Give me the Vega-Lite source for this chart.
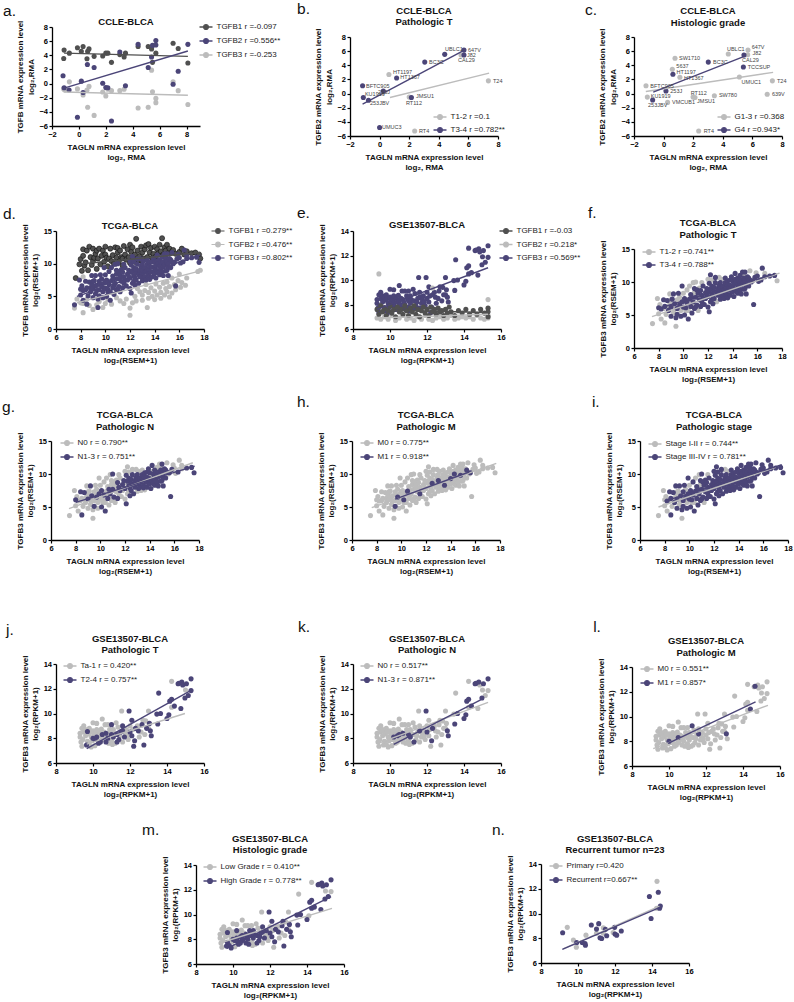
{"$schema":"https://vega.github.io/schema/vega-lite/v6.json","autosize":"none","padding":{"left":51,"top":27,"right":743,"bottom":975},"background":"#ffffff","bounds":"flush","spacing":0,"resolve":{"scale":{"color":"independent"},"legend":{"color":"independent"}},
"config":{"font":"Liberation Sans","view":{"stroke":null},"axis":{"grid":false,"domainColor":"#000","domainWidth":1.3,"tickColor":"#000","tickWidth":1.2,"tickSize":3,"labelColor":"#000","labelFontSize":7.5,"labelFontWeight":"bold","labelPadding":1.5,"labelOverlap":false,"labelFlush":false,"titleColor":"#111","titleFontSize":8,"titleFontWeight":"bold","titleLineHeight":10.5},"axisX":{"titlePadding":5},"axisY":{"titlePadding":3.5},"legend":{"orient":"none","padding":0,"symbolType":"M-1,0L-0.36,0A0.36,0.36 0 1,1 0.36,0A0.36,0.36 0 1,1 -0.36,0M0.36,0L1,0","symbolSize":169,"symbolStrokeWidth":1.1,"labelFontSize":8,"labelColor":"#222","labelOffset":3,"labelFont":"Liberation Sans","title":null},"circle":{"size":26,"opacity":1},"line":{"strokeWidth":1.4},"title":{"fontSize":9.5,"fontWeight":"bold","lineHeight":11.5,"color":"#111","anchor":"middle"},"text":{"font":"Liberation Sans"}},
"datasets":{"none":[{"v":0}],
"tcga":[{"x":7.5,"y":3.7,"T":0,"N":0,"M":0,"S":0},{"x":7.9,"y":7.5,"T":0,"N":0,"M":0,"S":0},{"x":8.0,"y":5.2,"T":0,"N":0,"M":0,"S":0},{"x":8.0,"y":6.1,"T":1,"N":1,"M":0,"S":0},{"x":8.1,"y":6.6,"T":0,"N":0,"M":0,"S":0},{"x":8.2,"y":4.4,"T":0,"N":0,"M":0,"S":0},{"x":8.2,"y":5.9,"T":1,"N":0,"M":0,"S":1},{"x":8.4,"y":7.3,"T":1,"N":1,"M":0,"S":1},{"x":8.4,"y":6.0,"T":0,"N":0,"M":0,"S":0},{"x":8.5,"y":3.8,"T":0,"N":1,"M":0,"S":1},{"x":8.5,"y":6.3,"T":1,"N":0,"M":0,"S":1},{"x":8.6,"y":5.1,"T":0,"N":0,"M":0,"S":0},{"x":8.7,"y":7.2,"T":1,"N":1,"M":0,"S":1},{"x":8.8,"y":5.7,"T":1,"N":0,"M":0,"S":1},{"x":8.8,"y":6.3,"T":0,"N":0,"M":0,"S":0},{"x":8.9,"y":6.8,"T":0,"N":0,"M":0,"S":0},{"x":8.9,"y":8.2,"T":0,"N":0,"M":0,"S":1},{"x":9.0,"y":4.8,"T":1,"N":0,"M":0,"S":1},{"x":9.0,"y":6.2,"T":1,"N":1,"M":0,"S":1},{"x":9.0,"y":7.3,"T":0,"N":0,"M":0,"S":0},{"x":9.1,"y":7.4,"T":1,"N":0,"M":0,"S":0},{"x":9.2,"y":5.4,"T":0,"N":0,"M":0,"S":0},{"x":9.2,"y":6.6,"T":0,"N":0,"M":0,"S":0},{"x":9.2,"y":8.2,"T":1,"N":1,"M":0,"S":1},{"x":9.3,"y":5.9,"T":0,"N":0,"M":0,"S":0},{"x":9.3,"y":6.7,"T":1,"N":1,"M":0,"S":1},{"x":9.4,"y":3.3,"T":0,"N":0,"M":0,"S":0},{"x":9.4,"y":4.6,"T":1,"N":0,"M":0,"S":1},{"x":9.5,"y":5.1,"T":1,"N":1,"M":1,"S":1},{"x":9.5,"y":6.0,"T":1,"N":0,"M":0,"S":1},{"x":9.5,"y":7.3,"T":0,"N":0,"M":0,"S":1},{"x":9.6,"y":8.3,"T":1,"N":0,"M":0,"S":1},{"x":9.6,"y":6.9,"T":0,"N":0,"M":0,"S":0},{"x":9.7,"y":6.5,"T":1,"N":1,"M":1,"S":1},{"x":9.7,"y":7.7,"T":0,"N":0,"M":0,"S":0},{"x":9.8,"y":4.8,"T":1,"N":0,"M":0,"S":1},{"x":9.8,"y":5.7,"T":0,"N":0,"M":0,"S":0},{"x":9.9,"y":7.0,"T":1,"N":1,"M":0,"S":1},{"x":9.9,"y":9.4,"T":1,"N":0,"M":0,"S":1},{"x":9.9,"y":6.2,"T":0,"N":0,"M":0,"S":0},{"x":10.0,"y":6.2,"T":1,"N":0,"M":0,"S":1},{"x":10.0,"y":8.3,"T":0,"N":0,"M":0,"S":0},{"x":10.0,"y":7.3,"T":0,"N":0,"M":0,"S":0},{"x":10.1,"y":5.0,"T":1,"N":1,"M":0,"S":1},{"x":10.1,"y":7.5,"T":1,"N":1,"M":0,"S":1},{"x":10.2,"y":6.1,"T":1,"N":0,"M":1,"S":1},{"x":10.2,"y":7.1,"T":1,"N":0,"M":0,"S":1},{"x":10.2,"y":5.7,"T":0,"N":0,"M":0,"S":0},{"x":10.3,"y":8.8,"T":0,"N":0,"M":0,"S":1},{"x":10.3,"y":6.8,"T":1,"N":1,"M":0,"S":1},{"x":10.4,"y":4.4,"T":1,"N":1,"M":0,"S":1},{"x":10.4,"y":5.7,"T":0,"N":0,"M":0,"S":0},{"x":10.5,"y":7.4,"T":1,"N":0,"M":1,"S":1},{"x":10.5,"y":9.4,"T":0,"N":0,"M":0,"S":0},{"x":10.6,"y":6.3,"T":1,"N":1,"M":0,"S":1},{"x":10.6,"y":8.1,"T":1,"N":0,"M":0,"S":1},{"x":10.7,"y":5.3,"T":1,"N":0,"M":0,"S":1},{"x":10.7,"y":7.7,"T":1,"N":1,"M":0,"S":1},{"x":10.7,"y":6.7,"T":0,"N":0,"M":0,"S":0},{"x":10.8,"y":7.0,"T":1,"N":1,"M":0,"S":1},{"x":10.8,"y":9.9,"T":0,"N":0,"M":0,"S":0},{"x":10.9,"y":9.0,"T":1,"N":0,"M":0,"S":1},{"x":10.9,"y":6.0,"T":1,"N":0,"M":0,"S":1},{"x":10.9,"y":8.4,"T":0,"N":0,"M":0,"S":0},{"x":11.0,"y":7.7,"T":1,"N":1,"M":0,"S":1},{"x":11.0,"y":10.0,"T":0,"N":1,"M":0,"S":1},{"x":11.0,"y":6.2,"T":1,"N":0,"M":0,"S":1},{"x":11.1,"y":6.5,"T":1,"N":1,"M":0,"S":1},{"x":11.1,"y":8.8,"T":1,"N":0,"M":0,"S":1},{"x":11.2,"y":5.7,"T":0,"N":0,"M":0,"S":0},{"x":11.2,"y":8.3,"T":1,"N":0,"M":0,"S":1},{"x":11.2,"y":7.8,"T":0,"N":0,"M":0,"S":0},{"x":11.3,"y":7.3,"T":1,"N":0,"M":0,"S":1},{"x":11.3,"y":9.1,"T":0,"N":0,"M":0,"S":1},{"x":11.4,"y":6.3,"T":1,"N":1,"M":0,"S":1},{"x":11.4,"y":8.7,"T":1,"N":1,"M":0,"S":1},{"x":11.5,"y":8.0,"T":1,"N":1,"M":0,"S":1},{"x":11.5,"y":7.0,"T":1,"N":0,"M":1,"S":1},{"x":11.5,"y":9.9,"T":0,"N":0,"M":0,"S":0},{"x":11.6,"y":9.4,"T":1,"N":0,"M":0,"S":1},{"x":11.6,"y":7.5,"T":1,"N":1,"M":0,"S":1},{"x":11.7,"y":6.6,"T":1,"N":0,"M":0,"S":1},{"x":11.8,"y":8.4,"T":1,"N":1,"M":0,"S":1},{"x":11.8,"y":7.5,"T":1,"N":0,"M":0,"S":1},{"x":11.9,"y":9.0,"T":1,"N":1,"M":0,"S":1},{"x":11.9,"y":8.0,"T":1,"N":0,"M":0,"S":1},{"x":12.0,"y":6.2,"T":1,"N":0,"M":0,"S":1},{"x":12.0,"y":7.8,"T":1,"N":1,"M":0,"S":1},{"x":12.0,"y":10.4,"T":0,"N":0,"M":0,"S":1},{"x":12.1,"y":8.7,"T":1,"N":0,"M":0,"S":1},{"x":12.1,"y":9.8,"T":1,"N":1,"M":0,"S":1},{"x":12.1,"y":5.5,"T":1,"N":1,"M":0,"S":1},{"x":12.2,"y":7.0,"T":1,"N":0,"M":0,"S":1},{"x":12.2,"y":11.1,"T":1,"N":0,"M":0,"S":1},{"x":12.2,"y":8.9,"T":1,"N":1,"M":0,"S":1},{"x":12.3,"y":8.2,"T":1,"N":1,"M":0,"S":1},{"x":12.3,"y":9.4,"T":1,"N":1,"M":0,"S":1},{"x":12.3,"y":7.3,"T":1,"N":0,"M":0,"S":1},{"x":12.3,"y":10.3,"T":0,"N":0,"M":0,"S":1},{"x":12.4,"y":6.7,"T":1,"N":1,"M":0,"S":1},{"x":12.4,"y":7.9,"T":1,"N":1,"M":0,"S":1},{"x":12.5,"y":7.5,"T":1,"N":1,"M":0,"S":1},{"x":12.5,"y":8.6,"T":1,"N":1,"M":1,"S":1},{"x":12.5,"y":9.2,"T":1,"N":1,"M":0,"S":1},{"x":12.6,"y":9.9,"T":1,"N":1,"M":0,"S":1},{"x":12.6,"y":10.7,"T":1,"N":0,"M":0,"S":1},{"x":12.7,"y":7.0,"T":0,"N":1,"M":0,"S":1},{"x":12.7,"y":8.4,"T":1,"N":1,"M":0,"S":1},{"x":12.8,"y":8.0,"T":1,"N":1,"M":0,"S":1},{"x":12.8,"y":9.0,"T":1,"N":1,"M":0,"S":1},{"x":12.9,"y":10.7,"T":0,"N":0,"M":0,"S":0},{"x":12.9,"y":9.5,"T":1,"N":1,"M":0,"S":1},{"x":13.0,"y":7.4,"T":1,"N":0,"M":0,"S":1},{"x":13.0,"y":8.5,"T":1,"N":1,"M":0,"S":1},{"x":13.0,"y":9.0,"T":1,"N":1,"M":1,"S":1},{"x":13.0,"y":9.9,"T":1,"N":1,"M":0,"S":1},{"x":13.1,"y":10.4,"T":0,"N":0,"M":0,"S":0},{"x":13.1,"y":7.8,"T":1,"N":1,"M":0,"S":1},{"x":13.2,"y":8.0,"T":1,"N":1,"M":0,"S":1},{"x":13.2,"y":9.4,"T":1,"N":1,"M":0,"S":1},{"x":13.2,"y":8.7,"T":1,"N":1,"M":0,"S":1},{"x":13.3,"y":7.5,"T":1,"N":0,"M":0,"S":1},{"x":13.3,"y":8.8,"T":1,"N":1,"M":0,"S":1},{"x":13.4,"y":9.9,"T":1,"N":1,"M":0,"S":1},{"x":13.4,"y":10.6,"T":1,"N":0,"M":0,"S":1},{"x":13.4,"y":9.0,"T":1,"N":0,"M":0,"S":1},{"x":13.5,"y":8.3,"T":1,"N":1,"M":1,"S":1},{"x":13.5,"y":9.2,"T":1,"N":1,"M":0,"S":1},{"x":13.5,"y":7.9,"T":1,"N":1,"M":0,"S":1},{"x":13.6,"y":7.6,"T":1,"N":0,"M":0,"S":1},{"x":13.6,"y":10.2,"T":1,"N":1,"M":0,"S":1},{"x":13.6,"y":9.6,"T":1,"N":1,"M":0,"S":1},{"x":13.7,"y":8.8,"T":1,"N":1,"M":0,"S":1},{"x":13.8,"y":9.5,"T":1,"N":1,"M":0,"S":1},{"x":13.8,"y":8.0,"T":1,"N":1,"M":0,"S":1},{"x":13.8,"y":10.3,"T":1,"N":1,"M":0,"S":1},{"x":13.9,"y":10.8,"T":1,"N":1,"M":0,"S":1},{"x":13.9,"y":8.6,"T":1,"N":1,"M":0,"S":1},{"x":14.0,"y":9.3,"T":1,"N":1,"M":1,"S":1},{"x":14.0,"y":8.5,"T":1,"N":1,"M":0,"S":1},{"x":14.0,"y":10.2,"T":1,"N":1,"M":0,"S":1},{"x":14.1,"y":7.8,"T":1,"N":1,"M":0,"S":1},{"x":14.1,"y":9.7,"T":1,"N":0,"M":0,"S":1},{"x":14.1,"y":9.0,"T":1,"N":1,"M":0,"S":1},{"x":14.2,"y":11.3,"T":1,"N":1,"M":0,"S":1},{"x":14.2,"y":8.9,"T":1,"N":1,"M":0,"S":1},{"x":14.2,"y":10.4,"T":1,"N":0,"M":0,"S":1},{"x":14.3,"y":10.0,"T":1,"N":1,"M":1,"S":1},{"x":14.3,"y":8.6,"T":1,"N":1,"M":0,"S":1},{"x":14.4,"y":8.3,"T":1,"N":1,"M":0,"S":1},{"x":14.4,"y":10.6,"T":1,"N":1,"M":0,"S":1},{"x":14.4,"y":9.6,"T":1,"N":1,"M":0,"S":1},{"x":14.5,"y":9.2,"T":1,"N":1,"M":0,"S":1},{"x":14.5,"y":10.2,"T":1,"N":1,"M":0,"S":1},{"x":14.6,"y":11.0,"T":1,"N":0,"M":0,"S":1},{"x":14.6,"y":9.9,"T":1,"N":1,"M":0,"S":1},{"x":14.6,"y":8.8,"T":1,"N":1,"M":0,"S":1},{"x":14.7,"y":8.2,"T":1,"N":1,"M":0,"S":1},{"x":14.7,"y":10.3,"T":1,"N":1,"M":0,"S":1},{"x":14.7,"y":9.5,"T":1,"N":1,"M":0,"S":1},{"x":14.8,"y":9.8,"T":1,"N":1,"M":1,"S":1},{"x":14.8,"y":11.5,"T":1,"N":0,"M":0,"S":1},{"x":14.9,"y":8.9,"T":1,"N":1,"M":0,"S":1},{"x":14.9,"y":10.6,"T":1,"N":1,"M":0,"S":1},{"x":14.9,"y":11.0,"T":0,"N":0,"M":0,"S":1},{"x":15.0,"y":11.5,"T":1,"N":1,"M":0,"S":1},{"x":15.0,"y":10.2,"T":1,"N":1,"M":0,"S":1},{"x":15.0,"y":9.0,"T":1,"N":1,"M":0,"S":1},{"x":15.1,"y":9.5,"T":1,"N":1,"M":0,"S":1},{"x":15.1,"y":8.2,"T":1,"N":1,"M":0,"S":1},{"x":15.1,"y":10.0,"T":1,"N":1,"M":0,"S":1},{"x":15.2,"y":10.8,"T":1,"N":1,"M":0,"S":1},{"x":15.3,"y":10.6,"T":1,"N":1,"M":1,"S":1},{"x":15.3,"y":9.4,"T":1,"N":1,"M":0,"S":1},{"x":15.4,"y":11.7,"T":0,"N":0,"M":0,"S":1},{"x":15.4,"y":10.3,"T":1,"N":1,"M":0,"S":1},{"x":15.5,"y":10.0,"T":1,"N":0,"M":0,"S":1},{"x":15.6,"y":10.2,"T":1,"N":1,"M":1,"S":1},{"x":15.7,"y":6.6,"T":1,"N":1,"M":0,"S":1},{"x":15.8,"y":10.7,"T":1,"N":1,"M":0,"S":1},{"x":15.9,"y":11.4,"T":0,"N":0,"M":0,"S":1},{"x":16.0,"y":10.9,"T":1,"N":0,"M":0,"S":1},{"x":16.1,"y":10.1,"T":1,"N":0,"M":0,"S":1},{"x":16.3,"y":10.3,"T":1,"N":1,"M":0,"S":1},{"x":16.4,"y":12.1,"T":1,"N":0,"M":0,"S":1},{"x":16.6,"y":10.8,"T":1,"N":0,"M":0,"S":1},{"x":16.6,"y":11.3,"T":0,"N":0,"M":0,"S":1},{"x":17.0,"y":10.9,"T":1,"N":1,"M":0,"S":1},{"x":17.4,"y":11.0,"T":1,"N":1,"M":0,"S":1},{"x":17.6,"y":10.2,"T":0,"N":1,"M":0,"S":1}],
"tcga1":[{"x":7.6,"y":7.8,"g":"TGFB1"},{"x":7.9,"y":9.9,"g":"TGFB1"},{"x":8.0,"y":10.7,"g":"TGFB1"},{"x":8.1,"y":8.9,"g":"TGFB1"},{"x":8.2,"y":11.2,"g":"TGFB1"},{"x":8.2,"y":12.2,"g":"TGFB1"},{"x":8.3,"y":9.7,"g":"TGFB1"},{"x":8.4,"y":10.2,"g":"TGFB1"},{"x":8.5,"y":12.0,"g":"TGFB1"},{"x":8.6,"y":9.0,"g":"TGFB1"},{"x":8.7,"y":12.6,"g":"TGFB1"},{"x":8.8,"y":11.0,"g":"TGFB1"},{"x":8.9,"y":9.8,"g":"TGFB1"},{"x":9.0,"y":10.4,"g":"TGFB1"},{"x":9.0,"y":12.3,"g":"TGFB1"},{"x":9.1,"y":10.9,"g":"TGFB1"},{"x":9.2,"y":11.5,"g":"TGFB1"},{"x":9.3,"y":9.2,"g":"TGFB1"},{"x":9.3,"y":12.0,"g":"TGFB1"},{"x":9.4,"y":10.8,"g":"TGFB1"},{"x":9.5,"y":12.3,"g":"TGFB1"},{"x":9.6,"y":9.9,"g":"TGFB1"},{"x":9.7,"y":11.2,"g":"TGFB1"},{"x":9.8,"y":12.0,"g":"TGFB1"},{"x":9.9,"y":10.3,"g":"TGFB1"},{"x":10.0,"y":12.6,"g":"TGFB1"},{"x":10.0,"y":11.4,"g":"TGFB1"},{"x":10.1,"y":10.9,"g":"TGFB1"},{"x":10.2,"y":9.6,"g":"TGFB1"},{"x":10.3,"y":10.8,"g":"TGFB1"},{"x":10.4,"y":12.3,"g":"TGFB1"},{"x":10.5,"y":10.4,"g":"TGFB1"},{"x":10.6,"y":11.3,"g":"TGFB1"},{"x":10.7,"y":10.0,"g":"TGFB1"},{"x":10.8,"y":12.5,"g":"TGFB1"},{"x":10.9,"y":10.9,"g":"TGFB1"},{"x":11.0,"y":11.7,"g":"TGFB1"},{"x":11.0,"y":12.4,"g":"TGFB1"},{"x":11.1,"y":10.3,"g":"TGFB1"},{"x":11.2,"y":12.0,"g":"TGFB1"},{"x":11.3,"y":11.0,"g":"TGFB1"},{"x":11.4,"y":9.7,"g":"TGFB1"},{"x":11.4,"y":10.8,"g":"TGFB1"},{"x":11.5,"y":12.7,"g":"TGFB1"},{"x":11.6,"y":11.4,"g":"TGFB1"},{"x":11.7,"y":10.6,"g":"TGFB1"},{"x":11.8,"y":12.2,"g":"TGFB1"},{"x":11.9,"y":11.0,"g":"TGFB1"},{"x":12.0,"y":10.1,"g":"TGFB1"},{"x":12.0,"y":12.9,"g":"TGFB1"},{"x":12.1,"y":11.8,"g":"TGFB1"},{"x":12.2,"y":12.5,"g":"TGFB1"},{"x":12.3,"y":10.8,"g":"TGFB1"},{"x":12.4,"y":11.4,"g":"TGFB1"},{"x":12.5,"y":13.8,"g":"TGFB1"},{"x":12.5,"y":10.2,"g":"TGFB1"},{"x":12.6,"y":12.0,"g":"TGFB1"},{"x":12.7,"y":10.5,"g":"TGFB1"},{"x":12.8,"y":11.2,"g":"TGFB1"},{"x":12.9,"y":12.6,"g":"TGFB1"},{"x":13.0,"y":11.7,"g":"TGFB1"},{"x":13.0,"y":10.4,"g":"TGFB1"},{"x":13.1,"y":10.8,"g":"TGFB1"},{"x":13.2,"y":12.2,"g":"TGFB1"},{"x":13.3,"y":12.8,"g":"TGFB1"},{"x":13.4,"y":11.0,"g":"TGFB1"},{"x":13.5,"y":13.0,"g":"TGFB1"},{"x":13.6,"y":11.7,"g":"TGFB1"},{"x":13.7,"y":12.4,"g":"TGFB1"},{"x":13.8,"y":10.9,"g":"TGFB1"},{"x":13.9,"y":11.5,"g":"TGFB1"},{"x":14.0,"y":12.6,"g":"TGFB1"},{"x":14.0,"y":10.7,"g":"TGFB1"},{"x":14.1,"y":11.1,"g":"TGFB1"},{"x":14.2,"y":12.2,"g":"TGFB1"},{"x":14.3,"y":11.6,"g":"TGFB1"},{"x":14.4,"y":12.9,"g":"TGFB1"},{"x":14.5,"y":11.9,"g":"TGFB1"},{"x":14.6,"y":13.9,"g":"TGFB1"},{"x":14.7,"y":11.4,"g":"TGFB1"},{"x":14.8,"y":12.5,"g":"TGFB1"},{"x":14.9,"y":12.0,"g":"TGFB1"},{"x":15.0,"y":12.9,"g":"TGFB1"},{"x":15.1,"y":11.6,"g":"TGFB1"},{"x":15.2,"y":12.3,"g":"TGFB1"},{"x":15.4,"y":11.8,"g":"TGFB1"},{"x":15.5,"y":12.1,"g":"TGFB1"},{"x":15.7,"y":11.5,"g":"TGFB1"},{"x":16.0,"y":11.8,"g":"TGFB1"},{"x":16.2,"y":12.3,"g":"TGFB1"},{"x":16.4,"y":11.4,"g":"TGFB1"},{"x":16.6,"y":11.9,"g":"TGFB1"},{"x":17.0,"y":11.6,"g":"TGFB1"},{"x":17.3,"y":11.7,"g":"TGFB1"},{"x":17.6,"y":11.4,"g":"TGFB1"},{"x":17.7,"y":10.8,"g":"TGFB1"}],
"tcga2":[{"x":7.5,"y":3.2},{"x":7.7,"y":4.6},{"x":8.0,"y":4.0},{"x":8.2,"y":2.5},{"x":8.2,"y":3.9},{"x":8.2,"y":8.0},{"x":8.5,"y":4.6},{"x":8.7,"y":3.6},{"x":9.0,"y":3.0},{"x":9.3,"y":3.7},{"x":9.5,"y":4.2},{"x":9.8,"y":3.3},{"x":10.0,"y":3.9},{"x":10.2,"y":4.5},{"x":10.5,"y":3.8},{"x":10.9,"y":4.8},{"x":11.2,"y":4.3},{"x":11.5,"y":3.9},{"x":11.7,"y":4.6},{"x":12.0,"y":3.2},{"x":12.0,"y":2.1},{"x":12.2,"y":4.0},{"x":12.4,"y":5.0},{"x":12.5,"y":4.3},{"x":12.6,"y":6.2},{"x":12.8,"y":5.7},{"x":13.0,"y":5.2},{"x":13.0,"y":4.4},{"x":13.2,"y":5.9},{"x":13.3,"y":6.8},{"x":13.4,"y":3.3},{"x":13.5,"y":4.7},{"x":13.5,"y":5.6},{"x":13.7,"y":6.3},{"x":13.8,"y":5.0},{"x":14.0,"y":4.5},{"x":14.0,"y":5.8},{"x":14.1,"y":6.9},{"x":14.2,"y":5.2},{"x":14.4,"y":6.4},{"x":14.5,"y":4.7},{"x":14.5,"y":5.6},{"x":14.7,"y":7.0},{"x":14.8,"y":5.2},{"x":14.9,"y":6.2},{"x":15.0,"y":5.7},{"x":15.0,"y":7.2},{"x":15.2,"y":4.9},{"x":15.2,"y":6.5},{"x":15.4,"y":7.8},{"x":15.4,"y":5.5},{"x":15.6,"y":6.8},{"x":15.7,"y":6.0},{"x":15.9,"y":7.4},{"x":16.0,"y":8.4},{"x":16.1,"y":6.4},{"x":16.2,"y":7.1},{"x":16.5,"y":6.7},{"x":16.6,"y":7.8},{"x":17.5,"y":8.8},{"x":17.7,"y":9.0}],
"gse":[{"x":9.3,"y":8.4,"T":0,"N":0,"M":0,"G":0},{"x":9.3,"y":8.1,"T":0,"N":0,"M":0,"G":0},{"x":9.35,"y":7.7,"T":0,"N":0,"M":0,"G":0},{"x":9.4,"y":8.8,"T":0,"N":0,"M":0,"G":0},{"x":9.4,"y":7.35,"T":0,"N":0,"M":0,"G":0},{"x":9.45,"y":7.9,"T":0,"N":0,"M":0,"G":0},{"x":9.5,"y":8.5,"T":0,"N":0,"M":0,"G":0},{"x":9.5,"y":9.0,"T":0,"N":0,"M":0,"G":0},{"x":9.6,"y":8.2,"T":0,"N":0,"M":0,"G":0},{"x":9.6,"y":8.7,"T":0,"N":0,"M":0,"G":0},{"x":9.65,"y":7.45,"T":1,"N":0,"M":0,"G":1},{"x":9.7,"y":7.75,"T":0,"N":0,"M":0,"G":1},{"x":9.7,"y":8.55,"T":1,"N":0,"M":0,"G":1},{"x":9.75,"y":8.35,"T":0,"N":0,"M":0,"G":0},{"x":9.8,"y":8.8,"T":0,"N":0,"M":0,"G":0},{"x":9.8,"y":7.5,"T":0,"N":0,"M":0,"G":1},{"x":9.85,"y":8.5,"T":0,"N":0,"M":0,"G":0},{"x":9.9,"y":8.1,"T":0,"N":0,"M":0,"G":0},{"x":9.9,"y":7.3,"T":0,"N":0,"M":0,"G":1},{"x":9.95,"y":7.8,"T":0,"N":0,"M":0,"G":0},{"x":10.0,"y":8.0,"T":1,"N":0,"M":1,"G":1},{"x":10.0,"y":9.25,"T":0,"N":0,"M":0,"G":0},{"x":10.0,"y":8.6,"T":0,"N":0,"M":0,"G":0},{"x":10.05,"y":8.3,"T":0,"N":0,"M":0,"G":0},{"x":10.1,"y":7.9,"T":1,"N":0,"M":0,"G":1},{"x":10.1,"y":7.4,"T":0,"N":0,"M":0,"G":0},{"x":10.15,"y":8.4,"T":0,"N":0,"M":0,"G":0},{"x":10.2,"y":8.1,"T":1,"N":1,"M":0,"G":1},{"x":10.2,"y":8.7,"T":0,"N":0,"M":0,"G":1},{"x":10.2,"y":9.2,"T":0,"N":0,"M":0,"G":0},{"x":10.25,"y":7.85,"T":0,"N":0,"M":0,"G":1},{"x":10.3,"y":7.6,"T":1,"N":0,"M":0,"G":1},{"x":10.35,"y":8.5,"T":0,"N":0,"M":0,"G":0},{"x":10.4,"y":8.2,"T":0,"N":1,"M":0,"G":1},{"x":10.4,"y":7.7,"T":1,"N":0,"M":0,"G":1},{"x":10.45,"y":8.75,"T":0,"N":0,"M":0,"G":0},{"x":10.5,"y":9.55,"T":0,"N":0,"M":0,"G":0},{"x":10.5,"y":8.3,"T":1,"N":1,"M":1,"G":1},{"x":10.5,"y":7.9,"T":0,"N":0,"M":0,"G":1},{"x":10.55,"y":8.0,"T":0,"N":0,"M":0,"G":1},{"x":10.6,"y":8.5,"T":0,"N":0,"M":0,"G":0},{"x":10.65,"y":9.1,"T":0,"N":0,"M":0,"G":0},{"x":10.7,"y":7.7,"T":1,"N":0,"M":0,"G":1},{"x":10.7,"y":8.4,"T":1,"N":1,"M":0,"G":1},{"x":10.75,"y":8.2,"T":0,"N":0,"M":0,"G":1},{"x":10.8,"y":9.1,"T":0,"N":0,"M":0,"G":0},{"x":10.8,"y":8.0,"T":1,"N":0,"M":0,"G":1},{"x":10.85,"y":7.6,"T":0,"N":0,"M":0,"G":1},{"x":10.9,"y":8.7,"T":0,"N":0,"M":0,"G":1},{"x":10.95,"y":8.5,"T":0,"N":0,"M":0,"G":1},{"x":11.0,"y":9.1,"T":1,"N":0,"M":0,"G":0},{"x":11.0,"y":8.3,"T":1,"N":1,"M":0,"G":1},{"x":11.0,"y":7.8,"T":0,"N":0,"M":0,"G":0},{"x":11.05,"y":7.5,"T":0,"N":0,"M":0,"G":0},{"x":11.1,"y":8.1,"T":1,"N":1,"M":0,"G":1},{"x":11.1,"y":8.7,"T":0,"N":0,"M":0,"G":1},{"x":11.15,"y":8.4,"T":0,"N":0,"M":0,"G":1},{"x":11.2,"y":7.6,"T":0,"N":0,"M":0,"G":0},{"x":11.25,"y":9.25,"T":0,"N":0,"M":1,"G":0},{"x":11.3,"y":7.7,"T":1,"N":1,"M":0,"G":1},{"x":11.3,"y":8.3,"T":1,"N":0,"M":0,"G":1},{"x":11.35,"y":8.9,"T":0,"N":0,"M":0,"G":0},{"x":11.4,"y":7.9,"T":1,"N":0,"M":0,"G":1},{"x":11.45,"y":8.2,"T":0,"N":0,"M":0,"G":1},{"x":11.5,"y":8.5,"T":1,"N":0,"M":0,"G":1},{"x":11.55,"y":10.2,"T":0,"N":0,"M":0,"G":0},{"x":11.6,"y":8.6,"T":1,"N":1,"M":1,"G":1},{"x":11.6,"y":9.0,"T":1,"N":0,"M":0,"G":1},{"x":11.6,"y":7.7,"T":0,"N":0,"M":0,"G":0},{"x":11.7,"y":8.1,"T":1,"N":0,"M":0,"G":1},{"x":11.75,"y":8.4,"T":0,"N":0,"M":0,"G":0},{"x":11.8,"y":8.7,"T":0,"N":0,"M":0,"G":1},{"x":11.85,"y":8.2,"T":0,"N":0,"M":0,"G":0},{"x":11.9,"y":7.9,"T":0,"N":0,"M":0,"G":0},{"x":11.95,"y":10.2,"T":1,"N":1,"M":0,"G":1},{"x":12.0,"y":8.5,"T":1,"N":1,"M":0,"G":1},{"x":12.0,"y":9.0,"T":0,"N":0,"M":0,"G":0},{"x":12.1,"y":9.45,"T":1,"N":0,"M":0,"G":1},{"x":12.1,"y":8.2,"T":1,"N":0,"M":0,"G":1},{"x":12.15,"y":8.7,"T":0,"N":0,"M":0,"G":0},{"x":12.2,"y":7.35,"T":1,"N":0,"M":0,"G":0},{"x":12.25,"y":7.8,"T":1,"N":1,"M":0,"G":1},{"x":12.3,"y":8.8,"T":1,"N":1,"M":0,"G":1},{"x":12.4,"y":9.0,"T":0,"N":0,"M":0,"G":0},{"x":12.45,"y":8.6,"T":1,"N":0,"M":0,"G":1},{"x":12.5,"y":8.1,"T":0,"N":0,"M":0,"G":0},{"x":12.6,"y":8.5,"T":0,"N":0,"M":0,"G":0},{"x":12.65,"y":9.1,"T":1,"N":0,"M":0,"G":1},{"x":12.7,"y":9.45,"T":0,"N":0,"M":0,"G":1},{"x":12.75,"y":7.45,"T":1,"N":0,"M":0,"G":1},{"x":12.8,"y":8.3,"T":0,"N":0,"M":0,"G":0},{"x":12.85,"y":9.4,"T":0,"N":0,"M":0,"G":0},{"x":12.9,"y":8.8,"T":1,"N":0,"M":0,"G":1},{"x":13.0,"y":10.2,"T":0,"N":0,"M":0,"G":0},{"x":13.0,"y":8.8,"T":0,"N":0,"M":0,"G":0},{"x":13.05,"y":9.2,"T":1,"N":0,"M":0,"G":1},{"x":13.1,"y":8.6,"T":1,"N":1,"M":1,"G":1},{"x":13.15,"y":8.2,"T":1,"N":1,"M":0,"G":1},{"x":13.45,"y":9.95,"T":1,"N":0,"M":0,"G":1},{"x":13.5,"y":9.15,"T":1,"N":1,"M":0,"G":1},{"x":13.55,"y":11.65,"T":1,"N":0,"M":0,"G":0},{"x":13.65,"y":10.0,"T":1,"N":1,"M":0,"G":1},{"x":14.0,"y":9.6,"T":1,"N":1,"M":0,"G":1},{"x":14.1,"y":9.9,"T":1,"N":1,"M":0,"G":0},{"x":14.15,"y":11.0,"T":1,"N":1,"M":0,"G":1},{"x":14.25,"y":11.15,"T":1,"N":1,"M":0,"G":1},{"x":14.25,"y":12.6,"T":0,"N":0,"M":0,"G":0},{"x":14.25,"y":10.5,"T":0,"N":0,"M":0,"G":1},{"x":14.4,"y":10.6,"T":1,"N":1,"M":1,"G":1},{"x":14.6,"y":12.4,"T":1,"N":1,"M":0,"G":1},{"x":14.65,"y":12.45,"T":1,"N":1,"M":1,"G":1},{"x":14.75,"y":10.4,"T":1,"N":0,"M":0,"G":1},{"x":14.8,"y":12.55,"T":1,"N":1,"M":0,"G":1},{"x":14.85,"y":12.3,"T":1,"N":0,"M":0,"G":1},{"x":14.97,"y":11.25,"T":1,"N":1,"M":0,"G":1},{"x":15.0,"y":11.9,"T":0,"N":0,"M":0,"G":0},{"x":15.05,"y":12.4,"T":1,"N":1,"M":0,"G":1},{"x":15.15,"y":11.45,"T":1,"N":0,"M":0,"G":1},{"x":15.3,"y":12.8,"T":1,"N":1,"M":0,"G":1},{"x":15.3,"y":11.85,"T":1,"N":0,"M":0,"G":0}],
"gse1":[{"x":9.3,"y":7.6,"g":"TGFB1"},{"x":9.4,"y":7.2,"g":"TGFB1"},{"x":9.5,"y":7.9,"g":"TGFB1"},{"x":9.6,"y":7.4,"g":"TGFB1"},{"x":9.7,"y":7.7,"g":"TGFB1"},{"x":9.8,"y":7.1,"g":"TGFB1"},{"x":9.9,"y":7.5,"g":"TGFB1"},{"x":10.0,"y":7.9,"g":"TGFB1"},{"x":10.1,"y":7.3,"g":"TGFB1"},{"x":10.2,"y":7.6,"g":"TGFB1"},{"x":10.3,"y":7.0,"g":"TGFB1"},{"x":10.4,"y":7.8,"g":"TGFB1"},{"x":10.5,"y":7.4,"g":"TGFB1"},{"x":10.6,"y":7.6,"g":"TGFB1"},{"x":10.7,"y":7.2,"g":"TGFB1"},{"x":10.8,"y":7.9,"g":"TGFB1"},{"x":10.9,"y":7.5,"g":"TGFB1"},{"x":11.0,"y":7.1,"g":"TGFB1"},{"x":11.1,"y":7.7,"g":"TGFB1"},{"x":11.2,"y":7.4,"g":"TGFB1"},{"x":11.3,"y":7.9,"g":"TGFB1"},{"x":11.4,"y":7.2,"g":"TGFB1"},{"x":11.5,"y":7.6,"g":"TGFB1"},{"x":11.6,"y":7.0,"g":"TGFB1"},{"x":11.7,"y":7.5,"g":"TGFB1"},{"x":11.8,"y":7.8,"g":"TGFB1"},{"x":11.9,"y":7.3,"g":"TGFB1"},{"x":12.0,"y":7.6,"g":"TGFB1"},{"x":12.1,"y":7.1,"g":"TGFB1"},{"x":12.2,"y":7.8,"g":"TGFB1"},{"x":12.3,"y":7.4,"g":"TGFB1"},{"x":12.4,"y":7.6,"g":"TGFB1"},{"x":12.5,"y":7.2,"g":"TGFB1"},{"x":12.6,"y":7.7,"g":"TGFB1"},{"x":12.7,"y":7.4,"g":"TGFB1"},{"x":12.8,"y":7.5,"g":"TGFB1"},{"x":12.9,"y":7.1,"g":"TGFB1"},{"x":13.0,"y":7.6,"g":"TGFB1"},{"x":13.1,"y":7.3,"g":"TGFB1"},{"x":13.2,"y":7.8,"g":"TGFB1"},{"x":13.3,"y":7.4,"g":"TGFB1"},{"x":13.5,"y":7.1,"g":"TGFB1"},{"x":13.7,"y":7.5,"g":"TGFB1"},{"x":13.9,"y":7.3,"g":"TGFB1"},{"x":14.1,"y":7.6,"g":"TGFB1"},{"x":14.3,"y":7.2,"g":"TGFB1"},{"x":14.5,"y":7.5,"g":"TGFB1"},{"x":14.7,"y":7.2,"g":"TGFB1"},{"x":14.9,"y":7.6,"g":"TGFB1"},{"x":15.1,"y":7.3,"g":"TGFB1"},{"x":15.3,"y":7.7,"g":"TGFB1"},{"x":15.3,"y":7.0,"g":"TGFB1"},{"x":15.3,"y":7.4,"g":"TGFB1"}],
"gse2":[{"x":9.3,"y":6.9},{"x":9.5,"y":6.8},{"x":9.4,"y":10.5},{"x":9.7,"y":7.0},{"x":9.9,"y":6.8},{"x":10.1,"y":7.1},{"x":10.3,"y":6.7},{"x":10.5,"y":6.9},{"x":10.7,"y":7.1},{"x":10.9,"y":6.8},{"x":11.1,"y":6.9},{"x":11.3,"y":6.7},{"x":11.5,"y":7.0},{"x":11.7,"y":6.8},{"x":11.9,"y":7.1},{"x":12.1,"y":6.8},{"x":12.3,"y":9.35},{"x":12.3,"y":6.7},{"x":12.5,"y":6.9},{"x":12.7,"y":7.0},{"x":12.9,"y":6.8},{"x":13.1,"y":6.9},{"x":13.3,"y":7.1},{"x":13.5,"y":6.8},{"x":13.7,"y":6.9},{"x":13.9,"y":7.0},{"x":14.1,"y":6.9},{"x":14.3,"y":7.0},{"x":14.5,"y":6.8},{"x":14.7,"y":7.1},{"x":14.9,"y":6.9},{"x":15.1,"y":6.8},{"x":15.3,"y":8.4},{"x":15.3,"y":7.1},{"x":15.3,"y":6.9}]},
"vconcat":[
{"hconcat":[
{"width":1,"height":1,"data":{"name":"none"},"mark":{"type":"point","opacity":0},"encoding":{}},
{"width":148,"height":99,"title":{"text":"CCLE-BLCA","offset":-22},
"encoding":{"x":{"field":"x","type":"quantitative","scale":{"domain":[-2,9],"nice":false},"axis":{"values":[-2,0,2,4,6,8],"title":["TAGLN mRNA expression level","log₂, RMA"]}},"y":{"field":"y","type":"quantitative","scale":{"domain":[-6,8],"nice":false},"axis":{"values":[-6,-4,-2,0,2,4,6,8],"title":["TGFB  mRNA expression level","log₂,RMA"]}},"color":{"field":"g","type":"nominal","scale":{"domain":["TGFB1","TGFB2","TGFB3"],"range":["#505050","#4b4578","#bcbcbc"]},"legend":{"legendX":146.5,"legendY":-7.5,"rowPadding":1,"labelExpr":"{TGFB1:'TGFB1 r =-0.097',TGFB2:'TGFB2 r =0.556**',TGFB3:'TGFB3 r =-0.253'}[datum.label]"}}},
"layer":[
{"data":{"values":[{"x":-1.13,"y":-0.75,"g":"TGFB3"},{"x":-1.05,"y":-0.9,"g":"TGFB3"},{"x":-0.71,"y":0.24,"g":"TGFB3"},{"x":-0.11,"y":-0.75,"g":"TGFB3"},{"x":0.31,"y":-1.6,"g":"TGFB3"},{"x":0.6,"y":-0.9,"g":"TGFB3"},{"x":0.65,"y":-3.35,"g":"TGFB3"},{"x":0.75,"y":-0.4,"g":"TGFB3"},{"x":1.13,"y":-4.5,"g":"TGFB3"},{"x":1.77,"y":-1.2,"g":"TGFB3"},{"x":2.0,"y":-1.75,"g":"TGFB3"},{"x":2.15,"y":-0.8,"g":"TGFB3"},{"x":2.42,"y":-1.0,"g":"TGFB3"},{"x":3.04,"y":-1.0,"g":"TGFB3"},{"x":3.36,"y":-0.8,"g":"TGFB3"},{"x":4.4,"y":-3.45,"g":"TGFB3"},{"x":5.15,"y":-3.35,"g":"TGFB3"},{"x":5.4,"y":1.9,"g":"TGFB3"},{"x":5.47,"y":-1.15,"g":"TGFB3"},{"x":5.72,"y":-2.1,"g":"TGFB3"},{"x":5.72,"y":-2.7,"g":"TGFB3"},{"x":7.0,"y":0.25,"g":"TGFB3"},{"x":7.38,"y":-1.0,"g":"TGFB3"},{"x":8.1,"y":-2.95,"g":"TGFB3"},{"x":-1.13,"y":3.55,"g":"TGFB1"},{"x":-1.1,"y":4.73,"g":"TGFB1"},{"x":-0.71,"y":4.3,"g":"TGFB1"},{"x":-0.11,"y":5.07,"g":"TGFB1"},{"x":0.18,"y":4.55,"g":"TGFB1"},{"x":0.31,"y":5.25,"g":"TGFB1"},{"x":0.6,"y":3.5,"g":"TGFB1"},{"x":0.65,"y":4.55,"g":"TGFB1"},{"x":0.75,"y":4.9,"g":"TGFB1"},{"x":1.13,"y":3.85,"g":"TGFB1"},{"x":1.77,"y":3.9,"g":"TGFB1"},{"x":2.0,"y":4.3,"g":"TGFB1"},{"x":2.15,"y":4.3,"g":"TGFB1"},{"x":2.42,"y":3.0,"g":"TGFB1"},{"x":3.04,"y":4.1,"g":"TGFB1"},{"x":3.36,"y":3.75,"g":"TGFB1"},{"x":3.46,"y":4.3,"g":"TGFB1"},{"x":4.4,"y":5.25,"g":"TGFB1"},{"x":5.15,"y":5.25,"g":"TGFB1"},{"x":5.4,"y":4.9,"g":"TGFB1"},{"x":5.47,"y":3.0,"g":"TGFB1"},{"x":5.72,"y":4.3,"g":"TGFB1"},{"x":7.0,"y":5.7,"g":"TGFB1"},{"x":7.38,"y":4.95,"g":"TGFB1"},{"x":8.1,"y":2.9,"g":"TGFB1"},{"x":-1.18,"y":1.1,"g":"TGFB2"},{"x":-1.1,"y":-0.6,"g":"TGFB2"},{"x":-0.73,"y":-0.9,"g":"TGFB2"},{"x":-0.11,"y":-4.77,"g":"TGFB2"},{"x":0.18,"y":0.34,"g":"TGFB2"},{"x":0.31,"y":-1.27,"g":"TGFB2"},{"x":0.63,"y":2.7,"g":"TGFB2"},{"x":1.13,"y":2.27,"g":"TGFB2"},{"x":1.77,"y":0.05,"g":"TGFB2"},{"x":2.0,"y":-0.56,"g":"TGFB2"},{"x":2.15,"y":-0.6,"g":"TGFB2"},{"x":2.42,"y":-5.3,"g":"TGFB2"},{"x":3.04,"y":4.45,"g":"TGFB2"},{"x":3.46,"y":-0.3,"g":"TGFB2"},{"x":4.4,"y":5.55,"g":"TGFB2"},{"x":5.15,"y":2.27,"g":"TGFB2"},{"x":5.4,"y":3.75,"g":"TGFB2"},{"x":5.47,"y":5.4,"g":"TGFB2"},{"x":5.72,"y":6.1,"g":"TGFB2"},{"x":5.72,"y":5.45,"g":"TGFB2"},{"x":7.0,"y":-0.1,"g":"TGFB2"},{"x":7.38,"y":1.75,"g":"TGFB2"},{"x":8.1,"y":5.55,"g":"TGFB2"}]},"mark":"circle"},
{"data":{"values":[{"x":-1.1,"y":4.3,"g":"TGFB1"},{"x":8.1,"y":3.85,"g":"TGFB1"},{"x":-1.1,"y":-0.65,"g":"TGFB2"},{"x":8.1,"y":4.6,"g":"TGFB2"},{"x":-1.1,"y":-1.2,"g":"TGFB3"},{"x":8.1,"y":-1.65,"g":"TGFB3"}]},"mark":"line"},
{"data":{"values":[{"n":"a.","lx":-5.64,"ly":10.26}]},"mark":{"type":"text","align":"left","baseline":"middle","fontSize":15.5},"encoding":{"x":{"field":"lx","type":"quantitative"},"y":{"field":"ly","type":"quantitative"},"text":{"field":"n"},"color":{"value":"#111"}}}]},
{"width":150,"height":1,"data":{"name":"none"},"mark":{"type":"point","opacity":0},"encoding":{}},
{"width":148,"height":109,"title":{"text":["CCLE-BLCA","Pathologic T"],"offset":-25},
"encoding":{"x":{"field":"x","type":"quantitative","scale":{"domain":[-2,8],"nice":false},"axis":{"values":[-2,0,2,4,6,8],"title":["TAGLN mRNA expression level","log₂, RMA"]}},"y":{"field":"y","type":"quantitative","scale":{"domain":[-6,8],"nice":false,"range":[109,10]},"axis":{"values":[-6,-4,-2,0,2,4,6,8],"title":["TGFB2  mRNA expression level","log₂,RMA"]}},"color":{"field":"g","type":"nominal","scale":{"domain":[0,1],"range":["#bcbcbc","#4b4578"]},"legend":{"legendX":82.5,"legendY":82.5,"rowPadding":-1.5,"labelExpr":"{'0':'T1-2 r =0.1','1':'T3-4  r =0.782**'}[datum.label]"}}},
"layer":[
{"data":{"values":[{"x":0.63,"y":2.7,"g":0},{"x":2.0,"y":-0.5,"g":0},{"x":5.5,"y":5.45,"g":0},{"x":7.35,"y":1.8,"g":0},{"x":2.37,"y":-5.3,"g":0},{"x":-1.15,"y":1.1,"g":1},{"x":-1.1,"y":-0.55,"g":1},{"x":-0.75,"y":-0.95,"g":1},{"x":0.0,"y":-4.8,"g":1},{"x":0.25,"y":0.35,"g":1},{"x":1.15,"y":2.2,"g":1},{"x":2.15,"y":-0.55,"g":1},{"x":3.05,"y":4.45,"g":1},{"x":4.4,"y":5.55,"g":1},{"x":5.7,"y":6.15,"g":1},{"x":5.7,"y":5.45,"g":1}]},"mark":"circle"},
{"data":{"values":[{"x":0.7,"y":-0.55,"g":0},{"x":7.4,"y":2.9,"g":0},{"x":-1.15,"y":-1.5,"g":1},{"x":5.6,"y":6.0,"g":1}]},"mark":"line"},
{"data":{"values":[{"n":"BFTC905","lx":-0.92,"ly":1.07},{"n":"KU1919","lx":-0.99,"ly":-0.06},{"n":"253J","lx":-0.1,"ly":0.2},{"n":"253JBV","lx":-0.65,"ly":-1.33},{"n":"UMUC3","lx":0.16,"ly":-4.73},{"n":"HT1197","lx":0.9,"ly":3.05},{"n":"HT1367","lx":1.4,"ly":2.34},{"n":"BC3C","lx":3.34,"ly":4.46},{"n":"UBLC1","lx":4.42,"ly":6.3},{"n":"647V","lx":5.97,"ly":6.16},{"n":"J82","lx":5.9,"ly":5.45},{"n":"CAL29","lx":5.3,"ly":4.75},{"n":"T24","lx":7.66,"ly":1.8},{"n":"RT112","lx":1.78,"ly":-1.33},{"n":"JMSU1","lx":2.46,"ly":-0.38},{"n":"RT4","lx":2.66,"ly":-5.3}]},"mark":{"type":"text","align":"left","baseline":"middle","fontSize":5.5},"encoding":{"x":{"field":"lx","type":"quantitative"},"y":{"field":"ly","type":"quantitative"},"text":{"field":"n"},"color":{"value":"#444"}}},
{"data":{"values":[{"n":"b.","lx":-5.58,"ly":11.96}]},"mark":{"type":"text","align":"left","baseline":"middle","fontSize":15.5},"encoding":{"x":{"field":"lx","type":"quantitative"},"y":{"field":"ly","type":"quantitative"},"text":{"field":"n"},"color":{"value":"#111"}}}]},
{"width":136,"height":1,"data":{"name":"none"},"mark":{"type":"point","opacity":0},"encoding":{}},
{"width":148,"height":109,"title":{"text":["CCLE-BLCA","Histologic grade"],"offset":-24},
"encoding":{"x":{"field":"x","type":"quantitative","scale":{"domain":[-2,8],"nice":false},"axis":{"values":[-2,0,2,4,6,8],"title":["TAGLN mRNA expression level","log₂, RMA"]}},"y":{"field":"y","type":"quantitative","scale":{"domain":[-6,8],"nice":false,"range":[109,10]},"axis":{"values":[-6,-4,-2,0,2,4,6,8],"title":["TGFB2  mRNA expression level","log₂,RMA"]}},"color":{"field":"g","type":"nominal","scale":{"domain":[0,1],"range":["#bcbcbc","#4b4578"]},"legend":{"legendX":82.5,"legendY":82.5,"rowPadding":-1.5,"labelExpr":"{'0':'G1-3 r =0.368','1':'G4 r =0.943*'}[datum.label]"}}},
"layer":[
{"data":{"values":[{"x":0.77,"y":5.0,"g":0},{"x":0.59,"y":3.45,"g":0},{"x":1.1,"y":2.3,"g":0},{"x":-1.19,"y":1.1,"g":0},{"x":-1.1,"y":-0.5,"g":0},{"x":0.27,"y":-1.25,"g":0},{"x":1.99,"y":-0.5,"g":0},{"x":2.12,"y":-0.55,"g":0},{"x":3.43,"y":-0.3,"g":0},{"x":4.37,"y":5.6,"g":0},{"x":5.7,"y":6.15,"g":0},{"x":5.68,"y":5.5,"g":0},{"x":5.12,"y":2.35,"g":0},{"x":7.35,"y":1.8,"g":0},{"x":7.0,"y":-0.1,"g":0},{"x":2.37,"y":-5.3,"g":0},{"x":0.63,"y":2.74,"g":1},{"x":-0.74,"y":-0.9,"g":1},{"x":0.16,"y":0.37,"g":1},{"x":3.02,"y":4.45,"g":1},{"x":5.43,"y":5.45,"g":1},{"x":5.39,"y":3.75,"g":1}]},"mark":"circle"},
{"data":{"values":[{"x":-1.2,"y":0.3,"g":0},{"x":7.4,"y":3.0,"g":0},{"x":-0.7,"y":0.2,"g":1},{"x":5.45,"y":5.25,"g":1}]},"mark":"line"},
{"data":{"values":[{"n":"SW1710","lx":1.04,"ly":5.0},{"n":"5637","lx":0.86,"ly":3.83},{"n":"HT1197","lx":0.88,"ly":3.02},{"n":"HT1367","lx":1.38,"ly":2.27},{"n":"BFTC905","lx":-0.9,"ly":1.13},{"n":"KU1919","lx":-0.87,"ly":-0.3},{"n":"253J","lx":0.45,"ly":0.32},{"n":"253JBV","lx":-1.05,"ly":-1.67},{"n":"VMCUB1","lx":0.57,"ly":-1.24},{"n":"RT112","lx":1.83,"ly":0.13},{"n":"JMSU1","lx":2.26,"ly":-1.0},{"n":"SW780","lx":3.74,"ly":-0.25},{"n":"BC3C","lx":3.34,"ly":4.45},{"n":"UBLC1","lx":4.28,"ly":6.34},{"n":"647V","lx":5.95,"ly":6.58},{"n":"J82","lx":6.0,"ly":5.77},{"n":"CAL29","lx":5.3,"ly":4.73},{"n":"TCCSUP","lx":5.68,"ly":3.73},{"n":"UMUC1","lx":5.27,"ly":1.7},{"n":"T24","lx":7.66,"ly":1.8},{"n":"639V","lx":7.32,"ly":-0.1},{"n":"RT4","lx":2.71,"ly":-5.3}]},"mark":{"type":"text","align":"left","baseline":"middle","fontSize":5.5},"encoding":{"x":{"field":"lx","type":"quantitative"},"y":{"field":"ly","type":"quantitative"},"text":{"field":"n"},"color":{"value":"#444"}}},
{"data":{"values":[{"n":"c.","lx":-5.31,"ly":11.8}]},"mark":{"type":"text","align":"left","baseline":"middle","fontSize":15.5},"encoding":{"x":{"field":"lx","type":"quantitative"},"y":{"field":"ly","type":"quantitative"},"text":{"field":"n"},"color":{"value":"#111"}}}]}
],"spacing":0,"bounds":"flush","resolve":{"scale":{"color":"independent"},"legend":{"color":"independent"}}},
{"width":1,"height":204,"data":{"name":"none"},"mark":{"type":"point","opacity":0},"encoding":{}},
{"hconcat":[
{"width":5,"height":1,"data":{"name":"none"},"mark":{"type":"point","opacity":0},"encoding":{}},
{"width":148,"height":98,"title":{"text":"TCGA-BLCA","offset":-23},
"encoding":{"x":{"field":"x","type":"quantitative","scale":{"domain":[6,18],"nice":false},"axis":{"values":[6,8,10,12,14,16,18],"title":["TAGLN mRNA expression level","log₂(RSEM+1)"]}},"y":{"field":"y","type":"quantitative","scale":{"domain":[0,15],"nice":false},"axis":{"values":[0,5,10,15],"title":["TGFB mRNA expression level","log₂(RSEM+1)"]}},"color":{"field":"g","type":"nominal","scale":{"domain":["TGFB1","TGFB2","TGFB3"],"range":["#505050","#bcbcbc","#4b4578"]},"legend":{"legendX":154.5,"legendY":-7.5,"rowPadding":0.5,"labelExpr":"{TGFB1:'TGFB1 r =0.279**',TGFB2:'TGFB2 r =0.476**',TGFB3:'TGFB3 r =0.802**'}[datum.label]"}}},
"layer":[
{"data":{"name":"tcga1"},"mark":{"type":"circle","stroke":"#111","strokeWidth":0.6}},
{"data":{"name":"tcga2"},"mark":"circle","encoding":{"color":{"value":"#bcbcbc"}}},
{"data":{"name":"tcga"},"mark":"circle","encoding":{"color":{"value":"#4b4578"}}},
{"data":{"values":[{"x":7.7,"y":9.9,"g":"TGFB1"},{"x":17.7,"y":11.7,"g":"TGFB1"},{"x":7.7,"y":4.0,"g":"TGFB2"},{"x":17.7,"y":8.9,"g":"TGFB2"},{"x":7.7,"y":5.0,"g":"TGFB3"},{"x":17.7,"y":11.3,"g":"TGFB3"}]},"mark":"line"},
{"data":{"values":[{"n":"d.","lx":1.7,"ly":17.6}]},"mark":{"type":"text","align":"left","baseline":"middle","fontSize":15.5},"encoding":{"x":{"field":"lx","type":"quantitative"},"y":{"field":"ly","type":"quantitative"},"text":{"field":"n"},"color":{"value":"#111"}}}]},
{"width":149,"height":1,"data":{"name":"none"},"mark":{"type":"point","opacity":0},"encoding":{}},
{"width":148,"height":98,"title":{"text":"GSE13507-BLCA","offset":-24},
"encoding":{"x":{"field":"x","type":"quantitative","scale":{"domain":[8,16],"nice":false},"axis":{"values":[8,10,12,14,16],"title":["TAGLN mRNA expression level","log₂(RPKM+1)"]}},"y":{"field":"y","type":"quantitative","scale":{"domain":[6,14],"nice":false},"axis":{"values":[6,8,10,12,14],"title":["TGFB mRNA expression level","log₂(RPKM+1)"]}},"color":{"field":"g","type":"nominal","scale":{"domain":["TGFB1","TGFB2","TGFB3"],"range":["#505050","#bcbcbc","#4b4578"]},"legend":{"legendX":145.5,"legendY":-7.5,"rowPadding":0.5,"labelExpr":"{TGFB1:'TGFB1 r =-0.03',TGFB2:'TGFB2 r =0.218*',TGFB3:'TGFB3 r =0.569**'}[datum.label]"}}},
"layer":[
{"data":{"name":"gse"},"mark":"circle","encoding":{"color":{"value":"#4b4578"}}},
{"data":{"name":"gse2"},"mark":"circle","encoding":{"color":{"value":"#bcbcbc"}}},
{"data":{"name":"gse1"},"mark":"circle"},
{"data":{"values":[{"x":9.3,"y":7.55,"g":"TGFB1"},{"x":15.3,"y":7.35,"g":"TGFB1"},{"x":9.3,"y":6.9,"g":"TGFB2"},{"x":15.3,"y":7.2,"g":"TGFB2"},{"x":9.3,"y":7.6,"g":"TGFB3"},{"x":15.3,"y":11.0,"g":"TGFB3"}]},"mark":"line"},
{"data":{"values":[{"n":"e.","lx":4.97,"ly":15.47}]},"mark":{"type":"text","align":"left","baseline":"middle","fontSize":15.5},"encoding":{"x":{"field":"lx","type":"quantitative"},"y":{"field":"ly","type":"quantitative"},"text":{"field":"n"},"color":{"value":"#111"}}}]},
{"width":133,"height":1,"data":{"name":"none"},"mark":{"type":"point","opacity":0},"encoding":{}},
{"width":148,"height":117,"title":{"text":["TCGA-BLCA","Pathologic T"],"offset":-33},"data":{"name":"tcga"},
"encoding":{"x":{"field":"x","type":"quantitative","scale":{"domain":[6,18],"nice":false},"axis":{"values":[6,8,10,12,14,16,18],"title":["TAGLN mRNA expression level","log₂(RSEM+1)"]}},"y":{"field":"y","type":"quantitative","scale":{"domain":[0,15],"nice":false,"range":[117,18]},"axis":{"values":[0,5,10,15],"title":["TGFB3 mRNA expression level","log₂(RSEM+1)"]}},"color":{"field":"T","type":"nominal","scale":{"domain":[0,1],"range":["#bcbcbc","#4b4578"]},"legend":{"legendX":7.5,"legendY":13.5,"rowPadding":0,"labelExpr":"{'0':'T1-2 r =0.741**','1':'T3-4 r =0.788**'}[datum.label]"}}},
"layer":[
{"mark":"circle","encoding":{"order":{"field":"T"}}},
{"data":{"values":[{"x":7.46,"y":4.75,"T":0},{"x":17.8,"y":11.35,"T":0},{"x":7.95,"y":6.0,"T":1},{"x":17.4,"y":11.2,"T":1}]},"mark":"line"},
{"data":{"values":[{"n":"f.","lx":2.27,"ly":20.45}]},"mark":{"type":"text","align":"left","baseline":"middle","fontSize":15.5},"encoding":{"x":{"field":"lx","type":"quantitative"},"y":{"field":"ly","type":"quantitative"},"text":{"field":"n"},"color":{"value":"#111"}}}]}
],"spacing":0,"bounds":"flush","resolve":{"scale":{"color":"independent"},"legend":{"color":"independent"}}},
{"width":1,"height":210,"data":{"name":"none"},"mark":{"type":"point","opacity":0},"encoding":{}},
{"hconcat":[
{"width":148,"height":99,"title":{"text":["TCGA-BLCA","Pathologic N"],"offset":-31},"data":{"name":"tcga"},
"encoding":{"x":{"field":"x","type":"quantitative","scale":{"domain":[6,18],"nice":false},"axis":{"values":[6,8,10,12,14,16,18],"title":["TAGLN mRNA expression level","log₂(RSEM+1)"]}},"y":{"field":"y","type":"quantitative","scale":{"domain":[0,15],"nice":false},"axis":{"values":[0,5,10,15],"title":["TGFB3 mRNA expression level","log₂(RSEM+1)"]}},"color":{"field":"N","type":"nominal","scale":{"domain":[0,1],"range":["#bcbcbc","#4b4578"]},"legend":{"legendX":8.5,"legendY":-5.5,"rowPadding":1,"labelExpr":"{'0':'N0 r = 0.790**','1':'N1-3 r = 0.751**'}[datum.label]"}}},
"layer":[
{"mark":"circle","encoding":{"order":{"field":"N"}}},
{"data":{"values":[{"x":7.46,"y":4.75,"N":0},{"x":17.5,"y":11.7,"N":0},{"x":8.0,"y":5.7,"N":1},{"x":17.65,"y":11.2,"N":1}]},"mark":"line"},
{"data":{"values":[{"n":"g.","lx":2.03,"ly":20.15}]},"mark":{"type":"text","align":"left","baseline":"middle","fontSize":15.5},"encoding":{"x":{"field":"lx","type":"quantitative"},"y":{"field":"ly","type":"quantitative"},"text":{"field":"n"},"color":{"value":"#111"}}}]},
{"width":153,"height":1,"data":{"name":"none"},"mark":{"type":"point","opacity":0},"encoding":{}},
{"width":148,"height":99,"title":{"text":["TCGA-BLCA","Pathologic M"],"offset":-36},"data":{"name":"tcga"},
"encoding":{"x":{"field":"x","type":"quantitative","scale":{"domain":[6,18],"nice":false},"axis":{"values":[6,8,10,12,14,16,18],"title":["TAGLN mRNA expression level","log₂(RSEM+1)"]}},"y":{"field":"y","type":"quantitative","scale":{"domain":[0,15],"nice":false},"axis":{"values":[0,5,10,15],"title":["TGFB3 mRNA expression level","log₂(RSEM+1)"]}},"color":{"field":"M","type":"nominal","scale":{"domain":[0,1],"range":["#bcbcbc","#4b4578"]},"legend":{"legendX":7.5,"legendY":-5.5,"rowPadding":1,"labelExpr":"{'0':'M0 r = 0.775**','1':'M1 r = 0.918**'}[datum.label]"}}},
"layer":[
{"mark":"circle","encoding":{"order":{"field":"M"}}},
{"data":{"values":[{"x":7.6,"y":4.9,"M":0},{"x":17.7,"y":11.6,"M":0},{"x":9.5,"y":6.2,"M":1},{"x":15.5,"y":10.3,"M":1}]},"mark":"line"},
{"data":{"values":[{"n":"h.","lx":1.54,"ly":20.9}]},"mark":{"type":"text","align":"left","baseline":"middle","fontSize":15.5},"encoding":{"x":{"field":"lx","type":"quantitative"},"y":{"field":"ly","type":"quantitative"},"text":{"field":"n"},"color":{"value":"#111"}}}]},
{"width":140,"height":1,"data":{"name":"none"},"mark":{"type":"point","opacity":0},"encoding":{}},
{"width":148,"height":99,"title":{"text":["TCGA-BLCA","Pathologic stage"],"offset":-36},"data":{"name":"tcga"},
"encoding":{"x":{"field":"x","type":"quantitative","scale":{"domain":[6,18],"nice":false},"axis":{"values":[6,8,10,12,14,16,18],"title":["TAGLN mRNA expression level","log₂(RSEM+1)"]}},"y":{"field":"y","type":"quantitative","scale":{"domain":[0,15],"nice":false},"axis":{"values":[0,5,10,15],"title":["TGFB3 mRNA expression level","log₂(RSEM+1)"]}},"color":{"field":"S","type":"nominal","scale":{"domain":[0,1],"range":["#bcbcbc","#4b4578"]},"legend":{"legendX":7.5,"legendY":-4.5,"rowPadding":0,"labelExpr":"{'0':'Stage I-II r = 0.744**','1':'Stage III-IV r = 0.781**'}[datum.label]"}}},
"layer":[
{"mark":"circle","encoding":{"order":{"field":"S"}}},
{"data":{"values":[{"x":7.5,"y":5.0,"S":0},{"x":17.0,"y":11.0,"S":0},{"x":8.0,"y":5.9,"S":1},{"x":17.5,"y":11.4,"S":1}]},"mark":"line"},
{"data":{"values":[{"n":"i.","lx":2.1,"ly":20.9}]},"mark":{"type":"text","align":"left","baseline":"middle","fontSize":15.5},"encoding":{"x":{"field":"lx","type":"quantitative"},"y":{"field":"ly","type":"quantitative"},"text":{"field":"n"},"color":{"value":"#111"}}}]}
],"spacing":0,"bounds":"flush","resolve":{"scale":{"color":"independent"},"legend":{"color":"independent"}}},
{"width":1,"height":223,"data":{"name":"none"},"mark":{"type":"point","opacity":0},"encoding":{}},
{"hconcat":[
{"width":5,"height":1,"data":{"name":"none"},"mark":{"type":"point","opacity":0},"encoding":{}},
{"width":148,"height":99,"title":{"text":["GSE13507-BLCA","Pathologic T"],"offset":-32},"data":{"name":"gse"},
"encoding":{"x":{"field":"x","type":"quantitative","scale":{"domain":[8,16],"nice":false},"axis":{"values":[8,10,12,14,16],"title":["TAGLN mRNA expression level","log₂(RPKM+1)"]}},"y":{"field":"y","type":"quantitative","scale":{"domain":[6,14],"nice":false},"axis":{"values":[6,8,10,12,14],"title":["TGFB3 mRNA expression level","log₂(RPKM+1)"]}},"color":{"field":"T","type":"nominal","scale":{"domain":[0,1],"range":["#bcbcbc","#4b4578"]},"legend":{"legendX":6.5,"legendY":-5.5,"rowPadding":1,"labelExpr":"{'0':'Ta-1 r = 0.420**','1':'T2-4 r = 0.757**'}[datum.label]"}}},
"layer":[
{"mark":"circle","encoding":{"order":{"field":"T"}}},
{"data":{"values":[{"x":9.66,"y":7.52,"T":0},{"x":14.97,"y":10.0,"T":0},{"x":9.66,"y":7.17,"T":1},{"x":15.3,"y":11.86,"T":1}]},"mark":"line"},
{"data":{"values":[{"n":"j.","lx":5.3,"ly":16.75}]},"mark":{"type":"text","align":"left","baseline":"middle","fontSize":15.5},"encoding":{"x":{"field":"lx","type":"quantitative"},"y":{"field":"ly","type":"quantitative"},"text":{"field":"n"},"color":{"value":"#111"}}}]},
{"width":149,"height":1,"data":{"name":"none"},"mark":{"type":"point","opacity":0},"encoding":{}},
{"width":148,"height":99,"title":{"text":["GSE13507-BLCA","Pathologic N"],"offset":-35},"data":{"name":"gse"},
"encoding":{"x":{"field":"x","type":"quantitative","scale":{"domain":[8,16],"nice":false},"axis":{"values":[8,10,12,14,16],"title":["TAGLN mRNA expression level","log₂(RPKM+1)"]}},"y":{"field":"y","type":"quantitative","scale":{"domain":[6,14],"nice":false},"axis":{"values":[6,8,10,12,14],"title":["TGFB3 mRNA expression level","log₂(RPKM+1)"]}},"color":{"field":"N","type":"nominal","scale":{"domain":[0,1],"range":["#bcbcbc","#4b4578"]},"legend":{"legendX":6.5,"legendY":-5.5,"rowPadding":1,"labelExpr":"{'0':'N0 r = 0.517**','1':'N1-3 r = 0.871**'}[datum.label]"}}},
"layer":[
{"mark":"circle","encoding":{"order":{"field":"N"}}},
{"data":{"values":[{"x":9.4,"y":7.6,"N":0},{"x":15.3,"y":10.9,"N":0},{"x":10.2,"y":7.5,"N":1},{"x":14.9,"y":11.1,"N":1}]},"mark":"line"},
{"data":{"values":[{"n":"k.","lx":5.03,"ly":17}]},"mark":{"type":"text","align":"left","baseline":"middle","fontSize":15.5},"encoding":{"x":{"field":"lx","type":"quantitative"},"y":{"field":"ly","type":"quantitative"},"text":{"field":"n"},"color":{"value":"#111"}}}]},
{"width":131,"height":1,"data":{"name":"none"},"mark":{"type":"point","opacity":0},"encoding":{}},
{"width":148,"height":102,"title":{"text":["GSE13507-BLCA","Pathologic M"],"offset":-37},"data":{"name":"gse"},
"encoding":{"x":{"field":"x","type":"quantitative","scale":{"domain":[8,16],"nice":false},"axis":{"values":[8,10,12,14,16],"title":["TAGLN mRNA expression level","log₂(RPKM+1)"]}},"y":{"field":"y","type":"quantitative","scale":{"domain":[6,14],"nice":false,"range":[102,3]},"axis":{"values":[6,8,10,12,14],"title":["TGFB3 mRNA expression level","log₂(RPKM+1)"]}},"color":{"field":"M","type":"nominal","scale":{"domain":[0,1],"range":["#bcbcbc","#4b4578"]},"legend":{"legendX":7.5,"legendY":-2.5,"rowPadding":1,"labelExpr":"{'0':'M0 r = 0.551**','1':'M1 r = 0.857*'}[datum.label]"}}},
"layer":[
{"mark":"circle","encoding":{"order":{"field":"M"}}},
{"data":{"values":[{"x":9.15,"y":7.4,"M":0},{"x":15.35,"y":10.9,"M":0},{"x":9.95,"y":7.82,"M":1},{"x":14.68,"y":11.18,"M":1}]},"mark":"line"},
{"data":{"values":[{"n":"l.","lx":5.9,"ly":17.23}]},"mark":{"type":"text","align":"left","baseline":"middle","fontSize":15.5},"encoding":{"x":{"field":"lx","type":"quantitative"},"y":{"field":"ly","type":"quantitative"},"text":{"field":"n"},"color":{"value":"#111"}}}]}
],"spacing":0,"bounds":"flush","resolve":{"scale":{"color":"independent"},"legend":{"color":"independent"}}},
{"width":1,"height":200,"data":{"name":"none"},"mark":{"type":"point","opacity":0},"encoding":{}},
{"hconcat":[
{"width":145,"height":1,"data":{"name":"none"},"mark":{"type":"point","opacity":0},"encoding":{}},
{"width":148,"height":100,"title":{"text":["GSE13507-BLCA","Histologic grade"],"offset":-32},"data":{"name":"gse"},
"encoding":{"x":{"field":"x","type":"quantitative","scale":{"domain":[8,16],"nice":false},"axis":{"values":[8,10,12,14,16],"title":["TAGLN mRNA expression level","log₂(RPKM+1)"]}},"y":{"field":"y","type":"quantitative","scale":{"domain":[6,14],"nice":false,"range":[100,1]},"axis":{"values":[6,8,10,12,14],"title":["TGFB3 mRNA expression level","log₂(RPKM+1)"]}},"color":{"field":"G","type":"nominal","scale":{"domain":[0,1],"range":["#bcbcbc","#4b4578"]},"legend":{"legendX":6.5,"legendY":-4.5,"rowPadding":1,"labelExpr":"{'0':'Low Grade r = 0.410**','1':'High Grade r = 0.778**'}[datum.label]"}}},
"layer":[
{"mark":"circle","encoding":{"order":{"field":"G"}}},
{"data":{"values":[{"x":9.3,"y":7.7,"G":0},{"x":15.35,"y":10.5,"G":0},{"x":9.65,"y":7.25,"G":1},{"x":15.3,"y":11.45,"G":1}]},"mark":"line"},
{"data":{"values":[{"n":"m.","lx":5.08,"ly":16.83}]},"mark":{"type":"text","align":"left","baseline":"middle","fontSize":15.5},"encoding":{"x":{"field":"lx","type":"quantitative"},"y":{"field":"ly","type":"quantitative"},"text":{"field":"n"},"color":{"value":"#111"}}}]},
{"width":197,"height":1,"data":{"name":"none"},"mark":{"type":"point","opacity":0},"encoding":{}},
{"width":148,"height":99,"title":{"text":["GSE13507-BLCA","Recurrent tumor n=23"],"offset":-32},
"encoding":{"x":{"field":"x","type":"quantitative","scale":{"domain":[8,16],"nice":false},"axis":{"values":[8,10,12,14,16],"title":["TAGLN mRNA expression level","log₂(RPKM+1)"]}},"y":{"field":"y","type":"quantitative","scale":{"domain":[6,14],"nice":false},"axis":{"values":[6,8,10,12,14],"title":["TGFB3 mRNA expression level","log₂(RPKM+1)"]}},"color":{"field":"g","type":"nominal","scale":{"domain":[0,1],"range":["#bcbcbc","#4b4578"]},"legend":{"legendX":7.5,"legendY":-5.5,"rowPadding":1,"labelExpr":"{'0':'Primary r=0.420','1':'Recurrent r=0.667**'}[datum.label]"}}},
"layer":[
{"data":{"values":[{"x":9.42,"y":8.88,"g":0},{"x":9.75,"y":7.85,"g":0},{"x":9.91,"y":7.28,"g":0},{"x":10.43,"y":8.25,"g":0},{"x":11.0,"y":8.4,"g":0},{"x":11.37,"y":8.85,"g":0},{"x":11.37,"y":8.4,"g":0},{"x":11.9,"y":8.47,"g":0},{"x":14.27,"y":12.6,"g":0},{"x":14.25,"y":10.43,"g":0},{"x":9.17,"y":8.44,"g":1},{"x":9.93,"y":7.66,"g":1},{"x":10.23,"y":7.66,"g":1},{"x":10.38,"y":7.58,"g":1},{"x":10.4,"y":7.44,"g":1},{"x":10.72,"y":9.07,"g":1},{"x":11.0,"y":8.74,"g":1},{"x":11.12,"y":9.18,"g":1},{"x":11.19,"y":8.04,"g":1},{"x":11.28,"y":7.98,"g":1},{"x":11.48,"y":8.72,"g":1},{"x":11.55,"y":8.2,"g":1},{"x":11.98,"y":8.88,"g":1},{"x":12.0,"y":8.34,"g":1},{"x":12.09,"y":8.25,"g":1},{"x":12.34,"y":8.58,"g":1},{"x":13.86,"y":11.37,"g":1},{"x":14.34,"y":11.72,"g":1},{"x":13.95,"y":9.6,"g":1},{"x":14.41,"y":10.42,"g":1},{"x":14.45,"y":10.6,"g":1}]},"mark":"circle"},
{"data":{"values":[{"x":9.2,"y":7.15,"g":0},{"x":14.4,"y":10.6,"g":0},{"x":9.15,"y":7.1,"g":1},{"x":14.43,"y":10.5,"g":1}]},"mark":"line"},
{"data":{"values":[{"n":"n.","lx":5.35,"ly":16.75}]},"mark":{"type":"text","align":"left","baseline":"middle","fontSize":15.5},"encoding":{"x":{"field":"lx","type":"quantitative"},"y":{"field":"ly","type":"quantitative"},"text":{"field":"n"},"color":{"value":"#111"}}}]}
],"spacing":0,"bounds":"flush","resolve":{"scale":{"color":"independent"},"legend":{"color":"independent"}}}
]}
